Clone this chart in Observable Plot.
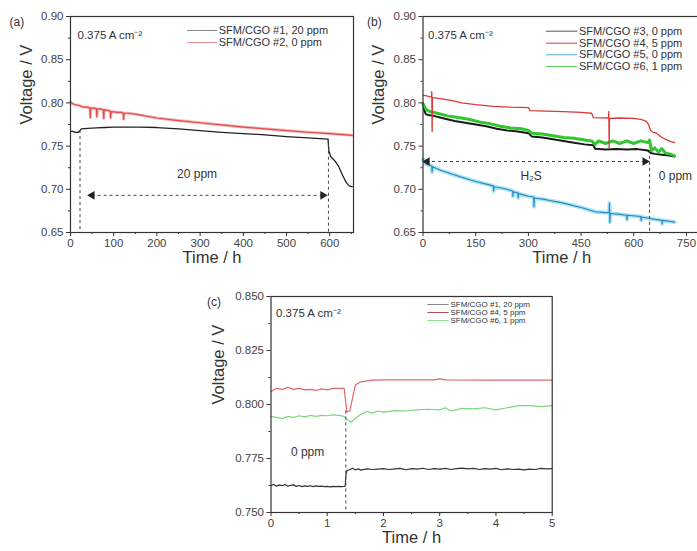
<!DOCTYPE html>
<html>
<head>
<meta charset="utf-8">
<script src="https://cdn.jsdelivr.net/npm/d3@7"></script>
<script src="https://cdn.jsdelivr.net/npm/@observablehq/plot@0.6"></script>
<style>
  html, body { margin: 0; padding: 0; background: #fff; }
  #fig { position: relative; width: 697px; height: 551px; overflow: hidden; background: #fff; }
  #fig svg { position: absolute; }
</style>
</head>
<body>
<div id="fig"></div>
<script>
// ---------------- DATA ----------------
// Panel (a): [time h, voltage V]
const a1_20ppm = [[0,0.767],[5,0.767],[12,0.766],[18,0.766],[22,0.768],[25,0.770],[40,0.7705],[60,0.771],[80,0.7715],[100,0.772],[130,0.772],[160,0.772],[200,0.7715],[250,0.770],[300,0.768],[350,0.766],[400,0.7645],[450,0.763],[500,0.761],[550,0.7595],[596,0.758],[598,0.745],[602,0.738],[610,0.734],[620,0.727],[630,0.716],[638,0.708],[645,0.704],[652,0.703]];
const a2_0ppm = [[0,0.801],[5,0.799],[10,0.798],[20,0.797],[30,0.795],[40,0.795],[45,0.794],[46,0.783],[47,0.794],[55,0.794],[60,0.793],[61,0.784],[62,0.793],[70,0.793],[76,0.792],[77,0.782],[78,0.792],[90,0.791],[92,0.790],[93,0.783],[94,0.790],[110,0.789],[120,0.789],[122,0.788],[123,0.781],[124,0.788],[135,0.788],[150,0.787],[200,0.7825],[250,0.7795],[300,0.777],[350,0.7745],[400,0.772],[450,0.770],[500,0.768],[550,0.766],[600,0.7645],[652,0.7625]];

// Panel (b)
const b3_0ppm = [[0,0.800],[3,0.792],[8,0.787],[15,0.786],[30,0.785],[60,0.782],[90,0.779],[120,0.777],[150,0.775],[180,0.773],[210,0.770],[240,0.768],[270,0.767],[300,0.765],[310,0.761],[340,0.760],[370,0.758],[400,0.756],[430,0.754],[460,0.752],[485,0.751],[490,0.747],[520,0.746],[550,0.7465],[580,0.746],[610,0.7465],[640,0.745],[648,0.742],[660,0.741],[680,0.740],[700,0.739],[716,0.738]];
const b4_5ppm = [[0,0.809],[10,0.808],[20,0.807],[24,0.807],[25,0.813],[26,0.767],[27,0.806],[50,0.805],[80,0.803],[110,0.800],[150,0.798],[200,0.796],[250,0.795],[300,0.7945],[305,0.791],[350,0.7905],[400,0.790],[450,0.789],[480,0.788],[485,0.783],[528,0.7825],[529,0.790],[530,0.748],[531,0.782],[560,0.7825],[600,0.782],[620,0.781],[635,0.779],[642,0.775],[648,0.768],[655,0.766],[665,0.765],[680,0.760],[700,0.756],[716,0.754]];
const b5_0ppm = [[0,0.735],[5,0.731],[10,0.729],[25,0.727],[26,0.720],[27,0.726],[50,0.722],[80,0.718],[110,0.714],[150,0.709],[180,0.706],[200,0.704],[201,0.698],[202,0.703],[230,0.701],[255,0.698],[256,0.692],[257,0.697],[270,0.696],[271,0.690],[272,0.695],[300,0.692],[315,0.691],[316,0.680],[317,0.690],[350,0.688],[400,0.684],[450,0.679],[490,0.674],[520,0.673],[530,0.673],[531,0.684],[532,0.662],[533,0.672],[560,0.671],[580,0.670],[581,0.665],[582,0.670],[620,0.6685],[621,0.664],[622,0.668],[650,0.666],[680,0.664],[681,0.660],[682,0.664],[700,0.663],[716,0.662]];
const b6_1ppm = [[0,0.799],[5,0.795],[10,0.792],[20,0.790],[40,0.788],[70,0.785],[100,0.783],[130,0.781],[160,0.778],[190,0.776],[220,0.773],[250,0.771],[280,0.770],[300,0.768],[310,0.765],[340,0.764],[370,0.762],[400,0.760],[430,0.759],[460,0.757],[480,0.756],[490,0.752],[500,0.756],[520,0.753],[540,0.756],[560,0.753],[580,0.756],[600,0.753],[620,0.756],[640,0.754],[645,0.757],[650,0.745],[660,0.748],[670,0.743],[680,0.747],[690,0.742],[700,0.741],[716,0.739]];

// Panel (c)
const c1_20ppm = [[0,0.7625],[0.05,0.763],[0.1,0.7622],[0.15,0.7628],[0.2,0.7624],[0.25,0.763],[0.3,0.7622],[0.35,0.7626],[0.4,0.7628],[0.45,0.7621],[0.5,0.7625],[0.55,0.762],[0.6,0.7623],[0.65,0.7621],[0.7,0.7624],[0.75,0.762],[0.8,0.7623],[0.85,0.7621],[0.9,0.7622],[0.95,0.762],[1.0,0.7621],[1.05,0.7619],[1.1,0.7621],[1.15,0.762],[1.2,0.7621],[1.25,0.762],[1.3,0.7621],[1.32,0.7622],[1.33,0.767],[1.35,0.7695],[1.4,0.7698],[1.45,0.7705],[1.5,0.7697],[1.55,0.7702],[1.6,0.7696],[1.7,0.7702],[1.8,0.7699],[1.9,0.7701],[2.0,0.7703],[2.1,0.7699],[2.2,0.7702],[2.3,0.7704],[2.4,0.7698],[2.5,0.7703],[2.6,0.7701],[2.7,0.7705],[2.8,0.7699],[2.9,0.7703],[3.0,0.7701],[3.1,0.7704],[3.2,0.7699],[3.3,0.7703],[3.4,0.7705],[3.5,0.7702],[3.6,0.7704],[3.7,0.7699],[3.8,0.7703],[3.9,0.7701],[4.0,0.7704],[4.1,0.7698],[4.2,0.7702],[4.3,0.7699],[4.4,0.7701],[4.5,0.7697],[4.6,0.7701],[4.7,0.7699],[4.8,0.7704],[4.9,0.7702],[5.0,0.7703]];
const c4_5ppm = [[0,0.806],[0.1,0.8075],[0.2,0.807],[0.3,0.808],[0.4,0.807],[0.5,0.8075],[0.6,0.8068],[0.7,0.807],[0.8,0.8065],[0.9,0.8072],[1.0,0.8068],[1.1,0.8075],[1.2,0.8075],[1.3,0.8075],[1.32,0.803],[1.35,0.7965],[1.4,0.797],[1.45,0.803],[1.5,0.809],[1.6,0.8105],[1.8,0.8113],[2.0,0.8114],[2.9,0.8114],[3.0,0.8119],[3.1,0.8114],[4.0,0.8113],[5.0,0.8113]];
const c6_1ppm = [[0,0.7945],[0.1,0.794],[0.2,0.7935],[0.3,0.7945],[0.4,0.794],[0.5,0.7948],[0.6,0.7943],[0.7,0.795],[0.8,0.7945],[0.9,0.795],[1.0,0.7948],[1.1,0.7952],[1.2,0.795],[1.3,0.7945],[1.35,0.793],[1.42,0.7918],[1.5,0.7935],[1.6,0.7955],[1.7,0.7968],[1.8,0.796],[1.9,0.797],[2.0,0.7965],[2.2,0.7972],[2.4,0.797],[2.6,0.7975],[2.8,0.7978],[3.0,0.7975],[3.1,0.7985],[3.2,0.797],[3.4,0.7982],[3.6,0.798],[3.8,0.7985],[4.0,0.7975],[4.2,0.7985],[4.4,0.7995],[4.6,0.7995],[4.8,0.799],[5.0,0.7995]];

// Ticks and labels
const yTicksAB = [0.65, 0.70, 0.75, 0.80, 0.85, 0.90];
const yMinorAB = [0.675, 0.725, 0.775, 0.825, 0.875];
const xTicksA = [0, 100, 200, 300, 400, 500, 600];
const xMinorA = [50, 150, 250, 350, 450, 550, 650];
const xTicksB = [0, 150, 300, 450, 600, 750];
const xMinorB = [75, 225, 375, 525, 675];
const yTicksC = [0.750, 0.775, 0.800, 0.825, 0.850];
const yMinorC = [0.7625, 0.7875, 0.8125, 0.8375];
const xTicksC = [0, 1, 2, 3, 4, 5];
const xMinorC = [0.5, 1.5, 2.5, 3.5, 4.5];

const legendA = ["SFM/CGO #1, 20 ppm", "SFM/CGO #2, 0 ppm"];
const legendB = ["SFM/CGO #3, 0 ppm", "SFM/CGO #4, 5 ppm", "SFM/CGO #5, 0 ppm", "SFM/CGO #6, 1 ppm"];
const legendC = ["SFM/CGO #1, 20 ppm", "SFM/CGO #4, 5 ppm", "SFM/CGO #6, 1 ppm"];
const currentLabel = "0.375 A cm\u207B\u00B2";

// ---------------- DRAW ----------------
const fig = document.getElementById("fig");
const FONT = "'Liberation Sans', Arial, Helvetica, sans-serif";
const X = d => d[0], Y = d => d[1];
const dash = "3,3";

function axes(xt, xm, yt, ym, xfmt, yfmt) {
  return [
    Plot.axisX({ticks: xt, tickSize: 4, tickPadding: 2, fontSize: 11.5, tickFormat: d3.format(xfmt), label: null, stroke: "#333"}),
    Plot.axisX({ticks: xm, tickSize: 2, tickFormat: () => "", label: null, stroke: "#333"}),
    Plot.axisY({ticks: yt, tickSize: 4, tickPadding: 3, fontSize: 11.5, tickFormat: d3.format(yfmt), label: null, stroke: "#333"}),
    Plot.axisY({ticks: ym, tickSize: 2, tickFormat: () => "", label: null, stroke: "#333"}),
    Plot.frame({stroke: "#333", strokeWidth: 1.2})
  ];
}
function titles(tag, tagDx, ylabDx) {
  return [
    Plot.text([tag], {frameAnchor: "top-left", dx: tagDx, dy: 1, textAnchor: "start", fontSize: 12, fill: "#333"}),
    Plot.text(["Voltage / V"], {frameAnchor: "left", dx: ylabDx, rotate: -90, fontSize: 16.5, fill: "#333"}),
    Plot.text(["Time / h"], {frameAnchor: "bottom", dy: 30, fontSize: 16.5, fill: "#333"})
  ];
}
function legend(labels, colors, ys, x1, x2, xt, fs) {
  const rows = labels.map((l, i) => ({l, c: colors[i], v: ys[i]}));
  return [
    Plot.link(rows, {x1: () => x1, x2: () => x2, y1: d => d.v, y2: d => d.v, stroke: d => d.c, strokeWidth: 1}),
    Plot.text(rows, {x: () => xt, y: d => d.v, text: d => d.l, textAnchor: "start", fontSize: fs, fill: "#333"})
  ];
}
const style = {fontFamily: FONT, color: "#444", background: "transparent", overflow: "visible"};

// Panel (a)
const pa = Plot.plot({
  width: 360, height: 275, marginLeft: 70, marginRight: 7, marginTop: 16, marginBottom: 43,
  x: {domain: [0, 655]}, y: {domain: [0.65, 0.90]}, style,
  marks: [
    Plot.line(a2_0ppm, {x: X, y: Y, stroke: "#f6b8b8", strokeWidth: 3}),
    Plot.line(a2_0ppm, {x: X, y: Y, stroke: "#e4484a", strokeWidth: 1.2}),
    Plot.line(a1_20ppm, {x: X, y: Y, stroke: "#222", strokeWidth: 1.3}),
    Plot.ruleX([22], {y1: 0.768, y2: 0.65, stroke: "#444", strokeDasharray: dash}),
    Plot.ruleX([597], {y1: 0.758, y2: 0.65, stroke: "#444", strokeDasharray: dash}),
    Plot.ruleY([0.693], {x1: 50, x2: 584, stroke: "#444", strokeDasharray: dash}),
    Plot.dot([[50, 0.693]], {x: X, y: Y, symbol: "triangle", rotate: -90, r: 3.2, fill: "#222", stroke: null}),
    Plot.dot([[584, 0.693]], {x: X, y: Y, symbol: "triangle", rotate: 90, r: 3.2, fill: "#222", stroke: null}),
    Plot.text(["20 ppm"], {x: () => 293, y: () => 0.718, fontSize: 12, fill: "#333"}),
    Plot.text([currentLabel], {frameAnchor: "top-left", dx: 7, dy: 14, textAnchor: "start", fontSize: 11.5, fill: "#333"}),
    ...legend(legendA, ["#888", "#ee8a8a"], [0.8838, 0.8699], 270, 340, 343, 11),
    ...axes(xTicksA, xMinorA, yTicksAB, yMinorAB, "d", ".2f"),
    ...titles("(a)", -61, -44)
  ]
});
pa.style.left = "0px"; pa.style.top = "0px";
fig.appendChild(pa);

// Panel (b)
const pb = Plot.plot({
  width: 360, height: 275, marginLeft: 70.5, marginRight: 12, marginTop: 16, marginBottom: 43,
  x: {domain: [0, 790]}, y: {domain: [0.65, 0.90]}, style,
  marks: [
    Plot.line(b5_0ppm, {x: X, y: Y, stroke: "#a6e4f7", strokeWidth: 4}),
    Plot.line(b5_0ppm, {x: X, y: Y, stroke: "#2e86b8", strokeWidth: 1.1}),
    Plot.line(b3_0ppm, {x: X, y: Y, stroke: "#1a1a1a", strokeWidth: 2}),
    Plot.line(b6_1ppm, {x: X, y: Y, stroke: "#2fc62f", strokeWidth: 3}),
    Plot.line(b4_5ppm, {x: X, y: Y, stroke: "#d93b3b", strokeWidth: 1.3}),
    Plot.ruleX([645], {y1: 0.745, y2: 0.65, stroke: "#444", strokeDasharray: dash}),
    Plot.ruleY([0.7322], {x1: 10, x2: 636, stroke: "#444", strokeDasharray: dash}),
    Plot.dot([[12, 0.7322]], {x: X, y: Y, symbol: "triangle", rotate: -90, r: 3.2, fill: "#222", stroke: null}),
    Plot.dot([[632, 0.7322]], {x: X, y: Y, symbol: "triangle", rotate: 90, r: 3.2, fill: "#222", stroke: null}),
    Plot.text(["H\u2082S"], {x: () => 308, y: () => 0.715, fontSize: 12, fill: "#333"}),
    Plot.text(["0 ppm"], {x: () => 671, y: () => 0.715, textAnchor: "start", fontSize: 12, fill: "#333"}),
    Plot.text([currentLabel], {frameAnchor: "top-left", dx: 5, dy: 14, textAnchor: "start", fontSize: 11.5, fill: "#333"}),
    ...legend(legendB, ["#555", "#d93b3b", "#5aaed6", "#5ccf5c"], [0.8830, 0.8691, 0.8557, 0.8421], 350, 439, 444, 11),
    ...axes(xTicksB, xMinorB, yTicksAB, yMinorAB, "d", ".2f"),
    ...titles("(b)", -56, -44.5)
  ]
});
pb.style.left = "352px"; pb.style.top = "0px";
fig.appendChild(pb);

// Panel (c)
const pc = Plot.plot({
  width: 360, height: 271, marginLeft: 70.5, marginRight: 8.3, marginTop: 16, marginBottom: 39,
  x: {domain: [0, 5]}, y: {domain: [0.75, 0.85]}, style,
  marks: [
    Plot.line(c6_1ppm, {x: X, y: Y, stroke: "#7bd67b", strokeWidth: 1.2}),
    Plot.line(c4_5ppm, {x: X, y: Y, stroke: "#e06767", strokeWidth: 1.2}),
    Plot.line(c1_20ppm, {x: X, y: Y, stroke: "#333", strokeWidth: 1.2}),
    Plot.ruleX([1.33], {y1: 0.797, y2: 0.75, stroke: "#444", strokeDasharray: dash}),
    Plot.text(["0 ppm"], {x: () => 0.65, y: () => 0.778, fontSize: 12, fill: "#333"}),
    Plot.text([currentLabel], {frameAnchor: "top-left", dx: 5, dy: 12, textAnchor: "start", fontSize: 11.5, fill: "#333"}),
    ...legend(legendC, ["#888", "#b04848", "#8de08d"], [0.8463, 0.8426, 0.8389], 2.78, 3.16, 3.19, 8),
    ...axes(xTicksC, xMinorC, yTicksC, yMinorC, "d", ".3f"),
    ...titles("(c)", -64, -52.5)
  ]
});
pc.style.left = "200px"; pc.style.top = "280px";
fig.appendChild(pc);
</script>
</body>
</html>
